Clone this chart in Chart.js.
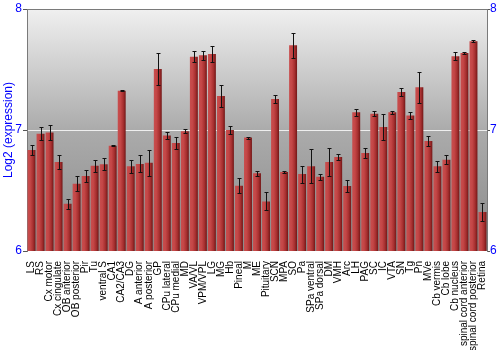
<!DOCTYPE html>
<html>
<head>
<meta charset="utf-8">
<script src="https://cdn.jsdelivr.net/npm/chart.js@4"></script>
<style>
    html, body { margin: 0; padding: 0; background: #ffffff; }
    #wrap { width: 500px; height: 350px; }
</style>
</head>
<body>
<div id="wrap"><canvas id="chart" width="500" height="350"></canvas></div>
<script>
const regions = ['LS', 'RS', 'Cx motor', 'Cx cingulate', 'OB anterior', 'OB posterior', 'Pir', 'Tu',
    'ventral S', 'CA1', 'CA2/CA3', 'DG', 'A anterior', 'A posterior', 'GP', 'CPu lateral', 'CPu medial',
    'MD', 'VA/VL', 'VPM/VPL', 'LG', 'MG', 'Hb', 'Pineal', 'M', 'ME', 'Pituitary', 'SCN', 'MPA', 'SO',
    'Pa', 'SPa ventral', 'SPa dorsal', 'DM', 'VMH', 'Arc', 'LH', 'PAG', 'SC', 'IC', 'VTA', 'SN', 'Tg',
    'Pn', 'MVe', 'Cb vermis', 'Cb lobe', 'Cb nucleus', 'spinal cord anterior', 'spinal cord posterior', 'Retina'];

const expression = [6.835, 6.97, 6.98, 6.735, 6.39, 6.556, 6.62, 6.705,
    6.716, 6.87, 7.325, 6.70, 6.72, 6.73, 7.504, 6.955, 6.893,
    6.99, 7.606, 7.617, 7.628, 7.28, 7.0, 6.54, 6.937, 6.642, 6.41, 7.256, 6.653, 7.70,
    6.636, 6.70, 6.614, 6.736, 6.777, 6.537, 7.146, 6.81, 7.135, 7.025, 7.146, 7.314, 7.12,
    7.353, 6.909, 6.70, 6.755, 7.609, 7.636, 7.733, 6.322];

const errors = [0.04, 0.055, 0.06, 0.055, 0.04, 0.06, 0.05, 0.05,
    0.05, 0.004, 0.005, 0.055, 0.07, 0.107, 0.13, 0.026, 0.047,
    0.017, 0.043, 0.035, 0.07, 0.09, 0.03, 0.06, 0.008, 0.02, 0.075, 0.033, 0.01, 0.105,
    0.07, 0.14, 0.025, 0.115, 0.022, 0.05, 0.028, 0.045, 0.018, 0.11, 0.011, 0.03, 0.028,
    0.13, 0.04, 0.047, 0.04, 0.033, 0.007, 0.008, 0.072];

const yTicks = [6, 7, 8];

const plotBackground = {
    id: 'plotBackground',
    beforeDraw(chart) {
        const { ctx, chartArea: a } = chart;
        const g = ctx.createLinearGradient(0, a.top, 0, a.bottom);
        g.addColorStop(0, '#f0f0f0');
        g.addColorStop(0.5, '#ababab');
        g.addColorStop(1, '#8a8a8a');
        ctx.save();
        ctx.fillStyle = g;
        ctx.fillRect(a.left, a.top, a.right - a.left, a.bottom - a.top);
        ctx.restore();
    },
    afterDraw(chart) {
        const { ctx, chartArea: a } = chart;
        ctx.save();
        ctx.strokeStyle = '#7a7a7a';
        ctx.lineWidth = 1;
        ctx.beginPath();
        ctx.moveTo(a.left, a.top + 0.5);
        ctx.lineTo(a.right, a.top + 0.5);
        ctx.stroke();
        ctx.restore();
    }
};

const errorBars = {
    id: 'errorBars',
    afterDatasetsDraw(chart) {
        const { ctx } = chart;
        const y = chart.scales.y;
        const meta = chart.getDatasetMeta(0);
        ctx.save();
        ctx.strokeStyle = '#111111';
        ctx.lineWidth = 1;
        meta.data.forEach((bar, i) => {
            const x = Math.round(bar.x) + 0.5;
            const top = Math.round(y.getPixelForValue(expression[i] + errors[i])) + 0.5;
            const bottom = Math.round(y.getPixelForValue(expression[i] - errors[i])) + 0.5;
            ctx.beginPath();
            ctx.moveTo(x, top);
            ctx.lineTo(x, bottom);
            ctx.moveTo(x - 2, top);
            ctx.lineTo(x + 2, top);
            ctx.moveTo(x - 2, bottom);
            ctx.lineTo(x + 2, bottom);
            ctx.stroke();
        });
        ctx.restore();
    }
};

function barFill(context) {
    const chart = context.chart;
    const xScale = chart.scales.x;
    if (!xScale || !chart.chartArea) return '#b03434';
    const cx = xScale.getPixelForValue(context.dataIndex);
    const g = chart.ctx.createLinearGradient(cx - 4, 0, cx + 4, 0);
    g.addColorStop(0, '#c84e4e');
    g.addColorStop(0.35, '#c44646');
    g.addColorStop(0.7, '#a62f2f');
    g.addColorStop(1, '#711616');
    return g;
}

new Chart(document.getElementById('chart'), {
    type: 'bar',
    data: {
        labels: regions,
        datasets: [{
            data: expression,
            backgroundColor: barFill,
            borderWidth: 0,
            categoryPercentage: 1,
            barPercentage: 0.88
        }]
    },
    options: {
        responsive: false,
        animation: false,
        layout: { padding: { top: 9, left: 0, right: 0, bottom: 0 } },
        plugins: {
            legend: { display: false },
            tooltip: { enabled: false }
        },
        scales: {
            x: {
                grid: { display: false },
                border: { display: false },
                ticks: {
                    autoSkip: false,
                    maxRotation: 90,
                    minRotation: 90,
                    padding: 2,
                    color: '#000000',
                    font: { family: 'Liberation Sans, Arial, sans-serif', size: 10 }
                },
                afterFit(scale) { scale.height = 99; }
            },
            y: {
                position: 'left',
                min: 6,
                max: 8,
                afterBuildTicks(scale) { scale.ticks = yTicks.map(v => ({ value: v })); },
                ticks: {
                    padding: 1,
                    color: '#0000ff',
                    font: { family: 'Liberation Sans, Arial, sans-serif', size: 12 }
                },
                grid: {
                    color: c => c.tick && c.tick.value === 7 ? '#eeeeee' : 'rgba(0,0,0,0)',
                    tickColor: '#555555',
                    tickLength: 4
                },
                border: { color: '#7a7a7a' },
                title: {
                    display: true,
                    text: 'Log2 (expression)',
                    color: '#0000ff',
                    padding: { top: 1, bottom: 0 },
                    font: { family: 'Liberation Sans, Arial, sans-serif', size: 12 }
                },
                afterFit(scale) { scale.width = 27; }
            },
            y2: {
                position: 'right',
                min: 6,
                max: 8,
                afterBuildTicks(scale) { scale.ticks = yTicks.map(v => ({ value: v })); },
                ticks: {
                    padding: 0,
                    color: '#0000ff',
                    font: { family: 'Liberation Sans, Arial, sans-serif', size: 12 }
                },
                grid: {
                    drawOnChartArea: false,
                    tickColor: '#555555',
                    tickLength: 3
                },
                border: { color: '#7a7a7a' },
                afterFit(scale) { scale.width = 13; }
            }
        }
    },
    plugins: [plotBackground, errorBars]
});
</script>
</body>
</html>
